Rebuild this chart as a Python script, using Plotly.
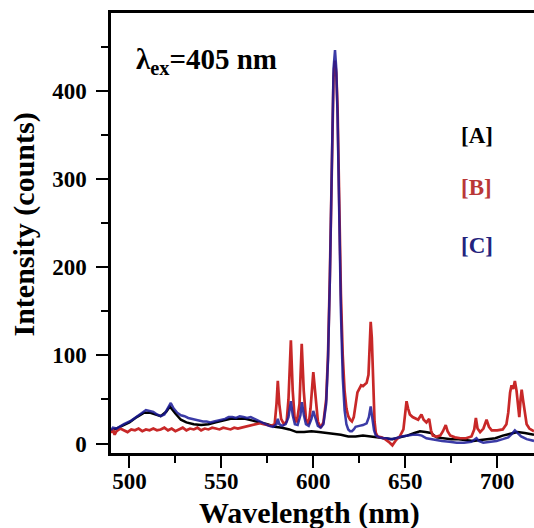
import plotly.graph_objects as go

# ---- data ----
wl_A = [490, 493, 496, 500, 504, 508, 511, 514, 517, 520, 522, 525, 528, 531, 535, 539, 543, 547,
        551, 555, 559, 563, 567, 571, 575, 579, 583, 587, 591, 595, 599, 603, 607, 611, 615, 619,
        623, 627, 631, 635, 639, 643, 647, 651, 655, 658, 661, 664, 667, 671, 675, 679, 683, 687,
        691, 695, 699, 703, 707, 711, 715, 720]
int_A = [15, 17, 20, 24, 30, 35, 35, 33, 31, 36, 42, 34, 27, 24, 22, 21, 22, 24,
         26, 28, 28, 28, 26, 24, 22, 19, 18, 16, 13, 13, 14, 13, 12, 11, 10, 8,
         8, 9, 8, 7, 6, 5, 7, 9, 12, 14, 13, 12, 7, 6, 5, 5, 4, 3,
         4, 5, 6, 9, 11, 13, 12, 10]

wl_B = [490, 491, 492, 493, 495, 497, 499, 501, 503, 505, 507, 509, 511, 513, 515, 517, 519, 521,
        523, 525, 527, 529, 531, 533, 535, 537, 539, 541, 543, 545, 547, 549, 551, 553, 555, 557,
        559, 561, 563, 565, 567, 569, 571, 573, 575, 577, 579, 580, 580.7, 581.5, 582.5, 584,
        585.5, 586.5, 587.8, 588.8, 589.8, 591, 592.5, 593.7, 594.8, 596, 597.5, 598.5, 600, 601,
        602.5, 604, 605.5, 607, 608, 609, 610, 611, 611.7, 612.5, 613.2, 614, 615, 616, 617, 618,
        619, 620, 621, 622, 623, 624, 625, 626, 627, 628, 629, 630, 630.7, 631.2, 631.8, 632.5,
        633.3, 634, 635, 637, 639, 641, 643, 645, 647, 649, 650, 650.7, 651.5, 652.5, 654, 656,
        657, 658.8, 660, 661.5, 663, 664, 665, 667, 669, 670.5, 672, 673, 674.5, 677, 680, 683,
        686, 687.5, 688.4, 689.3, 690.7, 692.5, 694.2, 695.5, 697, 700, 703, 705, 706, 707, 707.8,
        708.7, 709.6, 710.5, 711.2, 712, 712.7, 713.3, 714, 715, 716, 717.5, 719, 720]
int_B = [12, 16, 10, 14, 17, 15, 13, 16, 15, 17, 14, 16, 15, 17, 15, 16, 18, 15,
         17, 14, 16, 18, 15, 17, 16, 18, 15, 17, 16, 18, 17, 16, 18, 17, 16, 18,
         17, 18, 19, 20, 21, 22, 23, 22, 21, 20, 22, 45, 71, 45, 28, 22,
         25, 50, 117, 60, 30, 24, 45, 113, 60, 28, 22, 40, 81, 55,
         25, 18, 24, 50, 100, 190, 320, 415, 434, 420, 380, 280, 170, 100, 60, 40,
         31, 27, 25, 30, 46, 58, 62, 66, 65, 67, 69, 78, 120, 138, 120, 70,
         25, 12, 8, 7, 5, 2, -2, 4, 8, 16, 35, 48, 40, 33, 30, 28,
         27, 33, 27, 24, 28, 15, 9, 8, 9, 14, 21, 14, 9, 7, 6, 6,
         8, 16, 29, 17, 13, 17, 27, 19, 15, 15, 16, 22, 35, 58, 66,
         62, 71, 60, 45, 30, 50, 61, 50, 33, 22, 17, 15, 14]

wl_C = [490, 491, 493, 495, 497, 499, 501, 503, 505, 507, 509, 511, 513, 515, 517, 519, 520.5,
        522.5, 524, 526, 528, 530, 532, 534, 536, 538, 540, 542, 544, 546, 548, 550, 552, 554,
        556, 558, 560, 562, 564, 566, 568, 570, 572, 574, 576, 578, 580, 580.7, 581.5, 583, 585,
        586.5, 587.8, 588.8, 590, 591.5, 593, 593.8, 594.8, 596, 597.5, 599, 600, 601, 602.5, 604,
        605.5, 607, 608, 609, 610, 611, 611.8, 612.5, 613.2, 614, 615, 616, 617, 618, 619, 620,
        621, 622, 623, 625, 627, 629, 630.2, 631.2, 632, 633, 634, 636, 638, 640, 642, 645, 648,
        651, 654, 657, 659, 661.5, 664, 667, 670, 674, 678, 682, 686, 688.7, 690, 692.4, 696,
        699.6, 703, 706, 708, 709.6, 711, 713, 716, 720]
int_C = [15, 18, 17, 20, 22, 24, 26, 29, 32, 36, 38, 37, 36, 33, 31, 33, 38,
         46, 40, 35, 32, 31, 29, 28, 27, 26, 25, 25, 24, 25, 26, 27, 28, 30,
         30, 29, 31, 30, 29, 30, 28, 26, 24, 22, 20, 19, 22, 28, 22, 20, 22,
         30, 48, 32, 22, 21, 32, 47, 33, 22, 20, 28, 37, 30, 20, 18,
         22, 45, 95, 185, 320, 425, 446, 425, 370, 260, 150, 75, 38, 22, 16, 14,
         14, 16, 19, 20, 21, 23, 30, 42, 30, 15, 9, 7, 6, 6, 5, 6, 8,
         9, 10, 10, 9, 6, 5, 4, 3, 2, 1, 1, 2, 6, 3, 1, 2,
         3, 5, 7, 11, 15, 12, 8, 5, 3]

x_ticks = [500, 550, 600, 650, 700]
y_ticks = [0, 100, 200, 300, 400]
labels = ["[A]", "[B]", "[C]"]

# ---- styles ----
FONT = "Liberation Serif, Times New Roman, serif"
col_A = "#000000"
col_B = "rgb(200,40,40)"
col_C = "rgba(25,25,150,0.85)"

fig = go.Figure()
fig.add_trace(go.Scatter(x=wl_A, y=int_A, mode="lines", line=dict(color=col_A, width=2.5)))
fig.add_trace(go.Scatter(x=wl_B, y=int_B, mode="lines", line=dict(color=col_B, width=2.7)))
fig.add_trace(go.Scatter(x=wl_C, y=int_C, mode="lines", line=dict(color=col_C, width=2.5)))

tickfont = dict(family=FONT, size=23, color="black", weight="bold")
axis_common = dict(
    showgrid=False, zeroline=False, showline=True, linecolor="black", linewidth=2.5,
    ticks="outside", ticklen=12, tickwidth=2, tickcolor="black",
)
fig.update_xaxes(range=[490, 720], tickvals=x_ticks, mirror=True, tickfont=tickfont,
                 ticklabelstandoff=-6,
                 minor=dict(tickvals=[525, 575, 625, 675, 725], ticks="outside", ticklen=7,
                            tickwidth=2, tickcolor="black"),
                 **axis_common)
fig.update_yaxes(range=[-10.7, 488], tickvals=y_ticks, mirror=False, tickfont=tickfont,
                 ticklabelstandoff=5,
                 minor=dict(tickvals=[50, 150, 250, 350, 450], ticks="outside", ticklen=7,
                            tickwidth=2, tickcolor="black"),
                 **axis_common)

ann = []
ann.append(dict(text="λ<sub>ex</sub>=405 nm", x=542, y=434, xref="x", yref="y",
                showarrow=False, xanchor="center", yanchor="middle",
                font=dict(family=FONT, size=29, color="black", weight="bold")))
label_y = [349, 290, 225]
label_col = ["#000000", "rgb(185,55,55)", "rgb(35,35,125)"]
for t, yv, c in zip(labels, label_y, label_col):
    ann.append(dict(text=t, x=689, y=yv, xref="x", yref="y", showarrow=False,
                    xanchor="center", yanchor="middle",
                    font=dict(family=FONT, size=23, color=c, weight="bold")))
ann.append(dict(text="Wavelength (nm)", x=0.469, y=-0.136, xref="paper", yref="paper",
                showarrow=False, xanchor="center", yanchor="middle",
                font=dict(family=FONT, size=30, color="black", weight="bold")))
ann.append(dict(text="Intensity (counts)", x=-0.206, y=0.519, xref="paper", yref="paper",
                showarrow=False, xanchor="center", yanchor="middle", textangle=-90,
                font=dict(family=FONT, size=30, color="black", weight="bold")))

fig.update_layout(
    width=534, height=528, margin=dict(l=111, r=0, t=13, b=75),
    paper_bgcolor="white", plot_bgcolor="white", showlegend=False,
    font=dict(family=FONT),
    annotations=ann,
)
fig.write_html("out.html")
